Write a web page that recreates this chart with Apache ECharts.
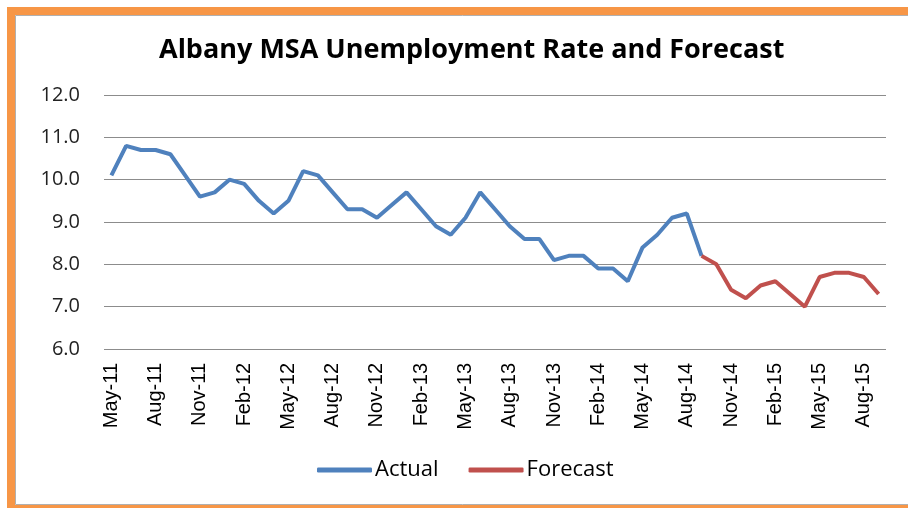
<!DOCTYPE html>
<html>
<head>
<meta charset="utf-8">
<script src="https://cdn.jsdelivr.net/npm/echarts@6/dist/echarts.min.js"></script>
<style>
  html, body { margin: 0; padding: 0; background: #fff; }
  #main { width: 908px; height: 508px; }
</style>
</head>
<body>
<div id="main"></div>
<script>
var myChart = echarts.init(document.getElementById('main'));

var months = [
    'May-11', 'Jun-11', 'Jul-11', 'Aug-11', 'Sep-11', 'Oct-11', 'Nov-11', 'Dec-11',
    'Jan-12', 'Feb-12', 'Mar-12', 'Apr-12', 'May-12', 'Jun-12', 'Jul-12', 'Aug-12',
    'Sep-12', 'Oct-12', 'Nov-12', 'Dec-12', 'Jan-13', 'Feb-13', 'Mar-13', 'Apr-13',
    'May-13', 'Jun-13', 'Jul-13', 'Aug-13', 'Sep-13', 'Oct-13', 'Nov-13', 'Dec-13',
    'Jan-14', 'Feb-14', 'Mar-14', 'Apr-14', 'May-14', 'Jun-14', 'Jul-14', 'Aug-14',
    'Sep-14', 'Oct-14', 'Nov-14', 'Dec-14', 'Jan-15', 'Feb-15', 'Mar-15', 'Apr-15',
    'May-15', 'Jun-15', 'Jul-15', 'Aug-15', 'Sep-15'
];

// May-11 .. Sep-14
var actual = [
    10.1, 10.8, 10.7, 10.7, 10.6, 10.1, 9.6, 9.7,
    10.0, 9.9, 9.5, 9.2, 9.5, 10.2, 10.1, 9.7,
    9.3, 9.3, 9.1, 9.4, 9.7, 9.3, 8.9, 8.7,
    9.1, 9.7, 9.3, 8.9, 8.6, 8.6, 8.1, 8.2,
    8.2, 7.9, 7.9, 7.6, 8.4, 8.7, 9.1, 9.2,
    8.2
];

// Sep-14 .. Sep-15 (starts where actual ends)
var forecast = [
    8.2, 8.0, 7.4, 7.2, 7.5, 7.6, 7.3, 7.0,
    7.7, 7.8, 7.8, 7.7, 7.3
];

var forecastStart = actual.length - 1;
var forecastData = months.map(function (m, i) {
    return i < forecastStart ? null : forecast[i - forecastStart];
});

option = {
    backgroundColor: '#fff',
    animation: false,
    title: {
        text: 'Albany MSA Unemployment Rate and Forecast',
        left: 154,
        top: 32,
        textStyle: {
            fontFamily: 'Open Sans',
            fontWeight: 'bold',
            fontSize: 27,
            color: '#000'
        }
    },
    legend: {
        bottom: 22,
        left: 312,
        icon: 'roundRect',
        itemWidth: 55,
        itemHeight: 5,
        itemGap: 30,
        textStyle: {
            fontFamily: 'Open Sans',
            fontSize: 22,
            color: '#000',
            padding: [0, 0, 0, -2]
        },
        data: ['Actual', 'Forecast']
    },
    grid: {
        left: 104,
        right: 22,
        top: 95,
        bottom: 159
    },
    graphic: [
        {
            type: 'rect',
            z: -10,
            shape: { x: 11, y: 11, width: 910, height: 498 },
            style: { fill: null, stroke: '#F79646', lineWidth: 8 }
        },
        {
            type: 'rect',
            z: -10,
            shape: { x: 15.5, y: 15.5, width: 900, height: 489 },
            style: { fill: null, stroke: '#b0b0b0', lineWidth: 1 }
        }
    ],
    xAxis: {
        type: 'category',
        data: months,
        boundaryGap: true,
        axisLine: { show: false },
        axisTick: { show: false },
        axisLabel: {
            interval: 2,
            rotate: 90,
            margin: 14,
            fontFamily: 'Liberation Sans',
            fontSize: 20,
            color: '#000'
        }
    },
    yAxis: {
        type: 'value',
        min: 6,
        max: 12,
        interval: 1,
        axisLine: { show: false },
        axisTick: { show: false },
        splitLine: {
            lineStyle: { color: '#8c8c8c', width: 1 }
        },
        axisLabel: {
            margin: 24,
            fontFamily: 'Open Sans',
            fontSize: 20,
            color: '#222',
            formatter: function (v) { return v.toFixed(1); }
        }
    },
    series: [
        {
            name: 'Actual',
            type: 'line',
            data: actual,
            symbol: 'none',
            color: '#4F81BD',
            lineStyle: { width: 4, color: '#4F81BD' }
        },
        {
            name: 'Forecast',
            type: 'line',
            data: forecastData,
            symbol: 'none',
            color: '#C0504D',
            lineStyle: { width: 4, color: '#C0504D' }
        }
    ]
};
myChart.setOption(option);
</script>
</body>
</html>
